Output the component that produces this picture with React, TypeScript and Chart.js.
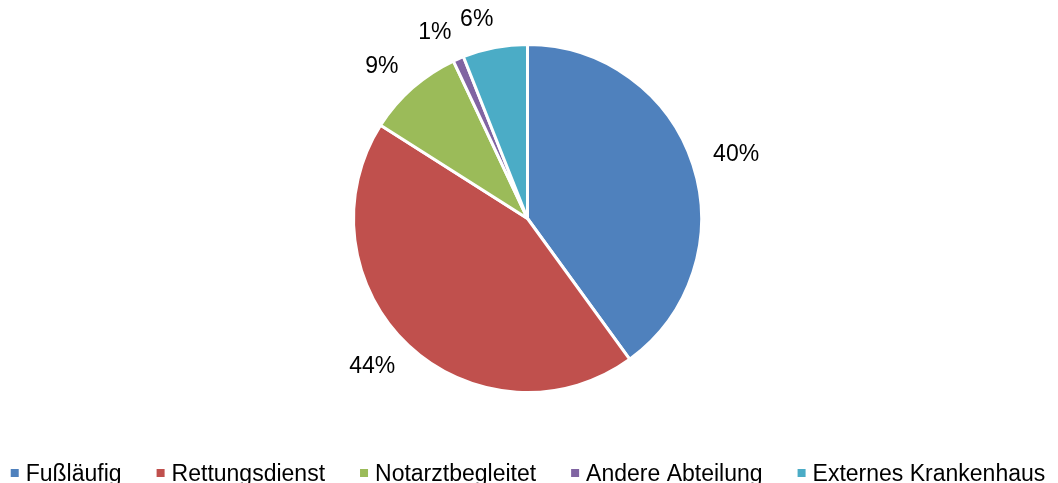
import React, { useEffect, useRef } from "react";
import { Chart, registerables } from "chart.js";

Chart.register(...registerables);

const categories = ["Fußläufig", "Rettungsdienst", "Notarztbegleitet", "Andere Abteilung", "Externes Krankenhaus"];
const shares = [40, 44, 9, 1, 6];
const colors = ["#4F81BD", "#C0504D", "#9BBB59", "#8064A2", "#4BACC6"];

const FONT = "'Liberation Sans', Arial, sans-serif";

const outsideLabels = {
  id: "outsideLabels",
  afterDatasetsDraw(chart: any) {
    const ctx = chart.ctx;
    const meta = chart.getDatasetMeta(0);
    const data = chart.data.datasets[0].data as number[];
    const total = data.reduce((a, b) => a + b, 0);
    ctx.save();
    ctx.font = `23px ${FONT}`;
    ctx.fillStyle = "#000";
    ctx.textAlign = "center";
    ctx.textBaseline = "middle";
    meta.data.forEach((arc: any, i: number) => {
      const { x, y, startAngle, endAngle, outerRadius } = arc.getProps(
        ["x", "y", "startAngle", "endAngle", "outerRadius"],
        true
      );
      const mid = (startAngle + endAngle) / 2;
      const text = Math.round((data[i] / total) * 100) + "%";
      const hw = ctx.measureText(text).width / 2;
      const c = Math.cos(mid);
      const s = Math.sin(mid);
      const d = outerRadius + 26;
      const px = x + c * d + Math.sign(c) * 0.8 * hw;
      const py = y + s * d + Math.sign(s) * 2;
      ctx.fillText(text, px, py);
    });
    ctx.restore();
  },
};

const bottomLegend = {
  id: "bottomLegend",
  afterDraw(chart: any) {
    const ctx = chart.ctx;
    const labels = chart.data.labels as string[];
    const bg = chart.data.datasets[0].backgroundColor as string[];
    ctx.save();
    ctx.font = `23px ${FONT}`;
    const box = 8;
    const textOff = 15;
    const gap = 35;
    const widths = labels.map((l) => ctx.measureText(l).width);
    const total = widths.reduce((a, w) => a + textOff + w, 0) + gap * (labels.length - 1);
    let x = chart.width / 2 - total / 2 - 1;
    const baseline = 481;
    ctx.textBaseline = "alphabetic";
    ctx.textAlign = "left";
    labels.forEach((l, i) => {
      ctx.fillStyle = bg[i];
      ctx.fillRect(x, baseline - 12, box, box);
      ctx.fillStyle = "#000";
      ctx.fillText(l, x + textOff, baseline);
      x += textOff + widths[i] + gap;
    });
    ctx.restore();
  },
};

export default function App() {
  const ref = useRef<HTMLCanvasElement | null>(null);
  useEffect(() => {
    document.body.style.margin = "0";
    if (!ref.current) return;
    const chart = new Chart(ref.current, {
      type: "pie",
      data: {
        labels: categories,
        datasets: [
          {
            data: shares,
            backgroundColor: colors,
            borderColor: "#FFFFFF",
            borderWidth: 3,
            radius: 174,
          },
        ],
      },
      options: {
        animation: false,
        responsive: true,
        maintainAspectRatio: false,
        layout: { padding: { top: 0, bottom: 46, left: 0, right: 3 } },
        plugins: {
          tooltip: { enabled: false },
          legend: { display: false },
        },
      },
      plugins: [outsideLabels, bottomLegend],
    });
    return () => chart.destroy();
  }, []);
  return (
    <div style={{ position: "fixed", left: 0, top: 0, width: 1058, height: 483, background: "#fff" }}>
      <canvas ref={ref} />
    </div>
  );
}
